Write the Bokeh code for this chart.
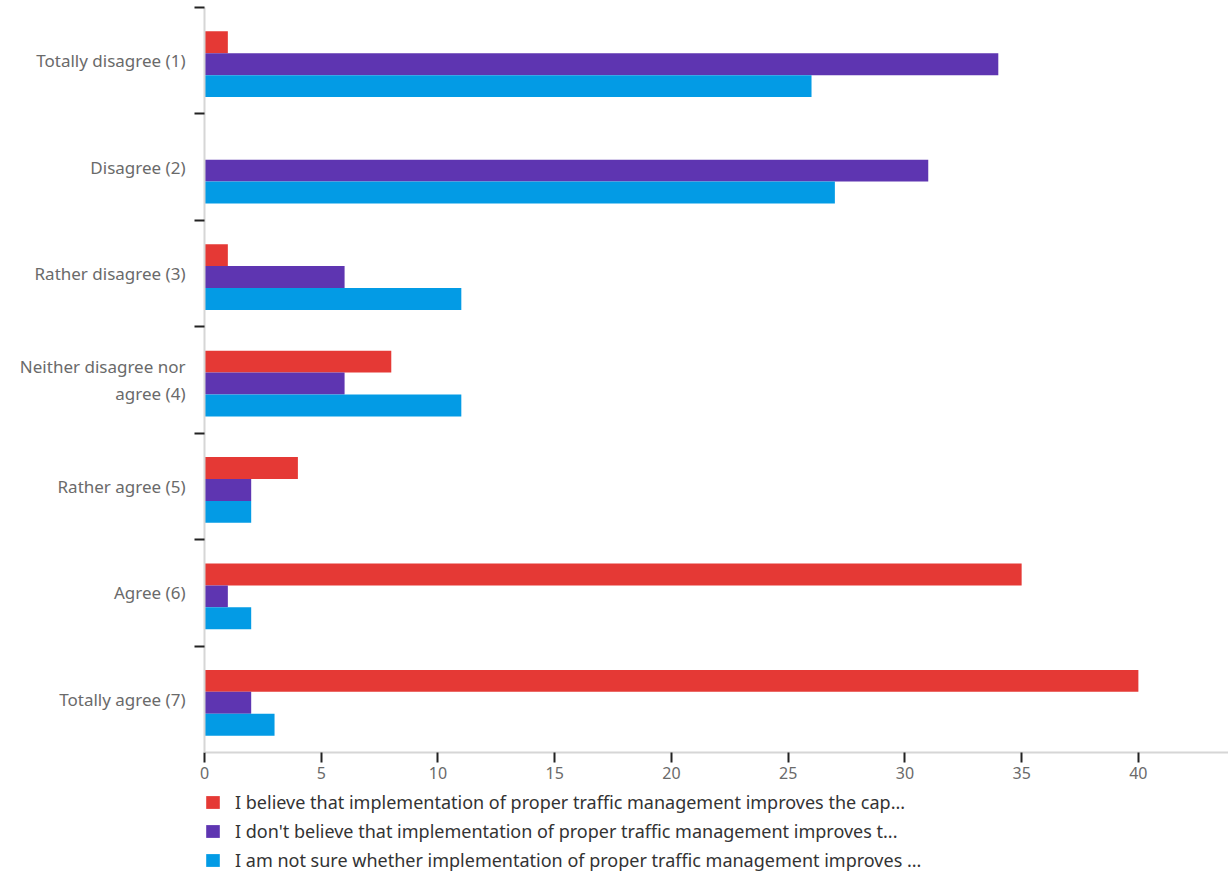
from bokeh.plotting import figure
from bokeh.layouts import column
from bokeh.models import ColumnDataSource, FixedTicker, Range1d, Legend, LegendItem
from bokeh.transform import dodge
from bokeh.embed import file_html
from bokeh.resources import INLINE

categories = ["Totally disagree (1)", "Disagree (2)", "Rather disagree (3)",
              "Neither disagree nor\nagree (4)", "Rather agree (5)", "Agree (6)", "Totally agree (7)"]
believe = [1, 0, 1, 8, 4, 35, 40]
dont_believe = [34, 31, 6, 6, 2, 1, 2]
not_sure = [26, 27, 11, 11, 2, 2, 3]
series_labels = [
    "I believe that implementation of proper traffic management improves the cap...",
    "I don't believe that implementation of proper traffic management improves t...",
    "I am not sure whether implementation of proper traffic management improves ...",
]
colors = ["#E53935", "#5E35B1", "#039BE5"]
x_ticks = [0, 5, 10, 15, 20, 25, 30, 35, 40]

pos = list(range(len(categories)))
src = ColumnDataSource(dict(y=pos, a=believe, b=dont_believe, c=not_sure))

p = figure(width=1228, height=790, output_backend="svg", toolbar_location=None,
           x_range=Range1d(0, 43.86), y_range=Range1d(len(categories) - 0.5, -0.5),
           min_border_left=204, min_border_right=0, min_border_top=7, min_border_bottom=38)
p.outline_line_color = None
p.xgrid.visible = False
p.ygrid.visible = False

for key, off, col in zip(["a", "b", "c"], [-0.173, 0.033, 0.239], colors):
    p.hbar(y=dodge("y", off), right=key, left=0, height=0.206, source=src,
           fill_color=col, line_color=None)

# y axis
ya = p.yaxis[0]
ya.ticker = FixedTicker(ticks=pos, minor_ticks=[i - 0.5 for i in pos])
ya.major_label_overrides = {i: c for i, c in enumerate(categories)}
ya.major_tick_line_color = None
ya.major_tick_out = 0
ya.major_tick_in = 0
ya.minor_tick_out = 10
ya.minor_tick_in = 0
ya.minor_tick_line_color = "#222222"
ya.minor_tick_line_width = 2
ya.axis_line_color = "#d6d6d6"
ya.axis_line_width = 2
ya.major_label_standoff = 9
ya.major_label_text_font = "Noto Sans"
ya.major_label_text_font_size = "17px"
ya.major_label_text_color = "#6a6a6a"

# x axis
xa = p.xaxis[0]
xa.ticker = FixedTicker(ticks=x_ticks)
xa.minor_tick_line_color = None
xa.major_tick_out = 10
xa.major_tick_in = 0
xa.major_tick_line_color = "#222222"
xa.major_tick_line_width = 2
xa.axis_line_color = "#d6d6d6"
xa.axis_line_width = 2
xa.major_label_standoff = 4
xa.major_label_text_font = "Noto Sans"
xa.major_label_text_font_size = "16px"
xa.major_label_text_color = "#6a6a6a"

# legend strip below the chart (series renderers kept outside its visible range)
lg = figure(width=1228, height=85, output_backend="svg", toolbar_location=None,
            x_axis_type=None, y_axis_type=None,
            x_range=Range1d(0, 43.86), y_range=Range1d(100, 101),
            min_border_left=0, min_border_right=0, min_border_top=0, min_border_bottom=0)
lg.outline_line_color = None
lg.xgrid.visible = False
lg.ygrid.visible = False
rs = [lg.hbar(y="y", right=key, left=0, height=0.206, source=src, fill_color=c, line_color=None)
      for key, c in zip(["a", "b", "c"], colors)]

legend = Legend(items=[LegendItem(label=l, renderers=[r]) for l, r in zip(series_labels, rs)],
                orientation="vertical", location=(0, 3),
                glyph_width=17, glyph_height=16, label_height=16, spacing=5,
                padding=0, margin=0, label_standoff=14,
                label_text_font="Noto Sans", label_text_font_size="18px",
                label_text_color="#333333", border_line_color=None,
                background_fill_alpha=0)
lg.add_layout(legend)

layout = column(p, lg, spacing=0)
open("out.html", "w").write(file_html(layout, INLINE))
